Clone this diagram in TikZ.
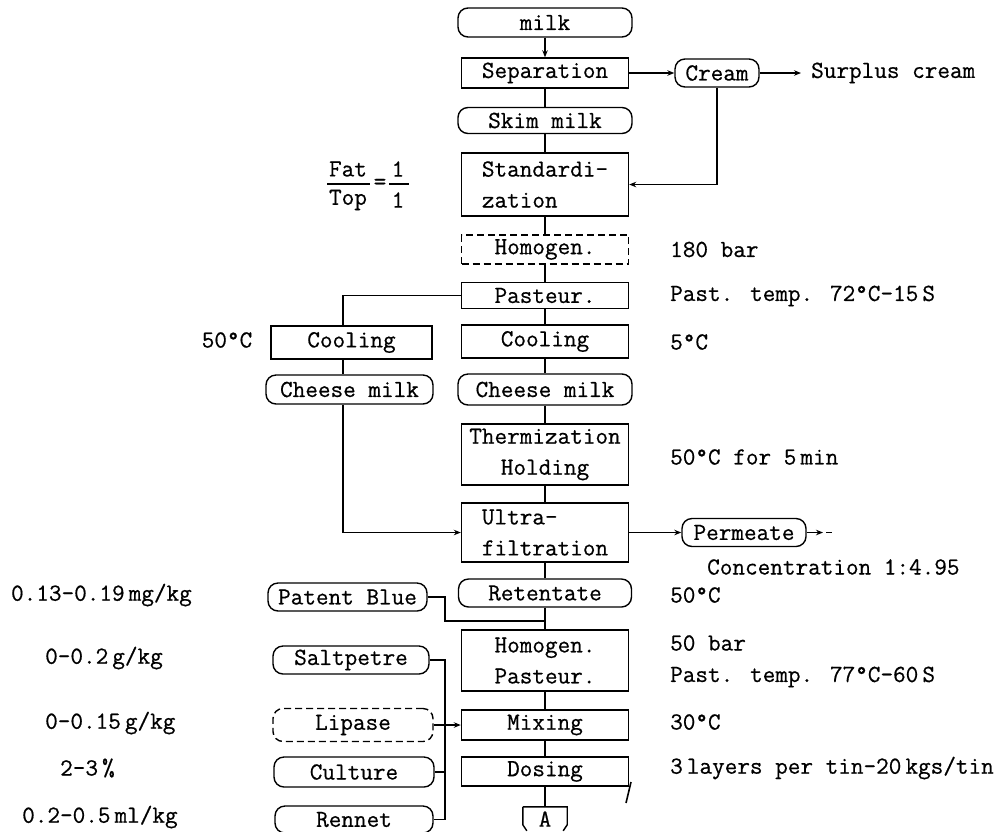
\documentclass[tikz,border=0pt]{standalone}
\usepackage{fontspec}
\newfontfamily\twfont[FakeBold=0.6]{Latin Modern Mono}
\usetikzlibrary{arrows.meta,calc}
\begin{document}
\begin{tikzpicture}[x=1pt,y=-1pt,
  every node/.style={font=\fontsize{24.5}{31}\selectfont\twfont, inner sep=0pt},
  ln/.style={line width=1.4pt},
  box/.style={draw, ln, minimum width=167pt},
  term/.style={draw, ln, rounded corners=10pt},
  dsh/.style={dash pattern=on 7pt off 4pt},
  arr/.style={ln, -{Stealth[length=7pt,width=5.5pt]}},
  lbl/.style={anchor=west}]
\useasboundingbox (0,0) rectangle (1008,831);

% main column
\node[term, minimum width=174pt, minimum height=29pt] (milk) at (545,22.5) {milk};
\node[box, minimum height=30pt] (sep) at (545,73) {Separation};
\node[term, minimum width=174pt, minimum height=26pt] (skim) at (545,120.5) {Skim milk};
\node[box, minimum height=63pt, align=left] (std) at (545,184.5) {Standardi-\\zation};
\node[box, dsh, minimum height=29pt] (homa) at (545,249.5) {Homogen.};
\node[box, minimum height=26pt] (past) at (545,295.5) {Pasteur.};
\node[box, minimum height=33pt] (coolr) at (545,341.5) {Cooling};
\node[term, minimum width=174pt, minimum height=31pt] (chr) at (545,389.5) {Cheese milk};
\node[box, minimum height=61pt, align=center] (therm) at (545,454.5) {Thermization\\Holding};
\node[box, minimum height=59pt, align=left] (ultra) at (545,532.5) {Ultra-\\filtration};
\node[term, minimum width=173pt, minimum height=28pt] (ret) at (545,593) {Retentate};
\node[box, minimum height=61pt, align=center] (hp) at (545,660.5) {Homogen.\\Pasteur.};
\node[box, minimum height=30pt] (mix) at (545,725) {Mixing};
\node[box, minimum height=29pt] (dos) at (545,771.5) {Dosing};
\node[minimum width=44pt, minimum height=24pt] (A) at (545,819) {A};
\draw[ln] (A.north west) -- (A.north east) -- ++(0,18) -- ++(-4,6);
\draw[ln] (A.north west) -- ++(0,18) -- ++(4,6);

% left branch
\node[box, minimum width=161pt, minimum height=33pt] (cooll) at (351.5,342.5) {Cooling};
\node[term, minimum width=167pt, minimum height=29pt] (chl) at (349.5,389.5) {Cheese milk};
\coordinate (jl) at (343,0);

% additives
\node[term, minimum width=159pt, minimum height=28pt] (pb) at (347.5,597) {Patent Blue};
\node[term, minimum width=156pt, minimum height=28pt] (salt) at (351,660) {Saltpetre};
\node[term, dsh, minimum width=160pt, minimum height=33pt] (lip) at (353,725) {Lipase};
\node[term, minimum width=160pt, minimum height=30pt] (cult) at (354,772) {Culture};
\node[term, minimum width=158pt, minimum height=27pt] (ren) at (354,819.5) {Rennet};
\coordinate (jb) at (445,0);
\coordinate (pj) at (545,621);

% cream and permeate
\node[term, minimum width=84pt, minimum height=28pt] (cream) at (717,73) {Cream};
\node[anchor=west, inner xsep=10pt] (surplus) at (801,73) {Surplus cream};
\node[term, minimum width=124pt, minimum height=28pt] (perm) at (744,532.5) {Permeate};
\coordinate (pe) at (823,532.5);
\coordinate (pd1) at (826,532.5);
\coordinate (pd2) at (832,532.5);

% fraction
\node (fat) at (348,169) {Fat};
\node (top) at (348,200) {Top};
\node (eq) at (380,184) {=};
\node (one1) at (398,169) {1};
\node (one2) at (398,200) {1};
\draw[ln] (327,184) -- (370,184);
\draw[ln] (389,184) -- (409,184);

% right labels
\node[lbl] (t1) at (670,249.5) {180 bar};
\node[lbl] (t2) at (670,296) {Past. temp. 72°C-15\,S};
\node[lbl] (t3) at (670,342) {5°C};
\node[lbl] (t4) at (670,457) {50°C for 5\,min};
\node[lbl] (t5) at (707,567) {Concentration 1:4.95};
\node[lbl] (t6) at (670,595) {50°C};
\node[lbl] (t7) at (670,643) {50 bar};
\node[lbl] (t8) at (670,677) {Past. temp. 77°C-60\,S};
\node[lbl] (t9) at (670,722) {30°C};
\node[lbl] (t10) at (670,768) {3\,layers per tin-20\,kgs/tin};

% left labels
\node (l0) at (227,340) {50°C};
\node[anchor=east] (l1) at (192,595) {0.13-0.19\,mg/kg};
\node[anchor=west] (l2) at (45,658) {0-0.2\,g/kg};
\node[anchor=west] (l3) at (45,723) {0-0.15\,g/kg};
\node[anchor=west] (l4) at (60,768) {2-3\,\%};
\node[anchor=west] (l5) at (22,817) {0.2-0.5\,ml/kg};

% connectors main column
\draw[arr] (milk) -- (sep);
\draw[ln] (sep) -- (skim);
\draw[ln] (skim) -- (std);
\draw[ln] (std) -- (homa);
\draw[ln] (homa) -- (past);
\draw[ln] (past) -- (coolr);
\draw[ln] (coolr) -- (chr);
\draw[ln] (chr) -- (therm);
\draw[ln] (therm) -- (ultra);
\draw[ln] (ultra) -- (ret);
\draw[ln] (ret) -- (hp);
\draw[ln] (hp) -- (mix);
\draw[ln] (mix) -- (dos);
\draw[ln] (dos) -- (A);

% left branch connectors
\draw[ln] (past.west) -- (past.west -| jl) -- (cooll.north -| jl);
\draw[ln] (cooll.south -| jl) -- (chl.north -| jl);
\draw[arr] (chl.south -| jl) -- (ultra.west -| jl) -- (ultra.west);

% cream connectors
\draw[arr] (sep.east) -- (cream.west);
\draw[arr] (cream.east) -- (surplus.west);
\draw[arr] (cream.south) -- (cream.south |- std.east) -- (std.east);

% permeate
\draw[arr] (ultra.east) -- (perm.west);
\draw[arr] (perm.east) -- (pe);
\draw[ln] (pd1) -- (pd2);

% additives connectors
\draw[ln] (pb.east) -- (pb.east -| jb) -- (jb |- pj) -- (pj);
\draw[ln] (salt.east) -- (salt.east -| jb) -- (jb |- ren.east) -- (ren.east);
\draw[ln] (cult.east) -- (cult.east -| jb);
\draw[arr] (lip.east) -- (mix.west);

% stray stroke by Dosing
\draw[line width=1.6pt] (631,782) -- (626,803);
\end{tikzpicture}
\end{document}
